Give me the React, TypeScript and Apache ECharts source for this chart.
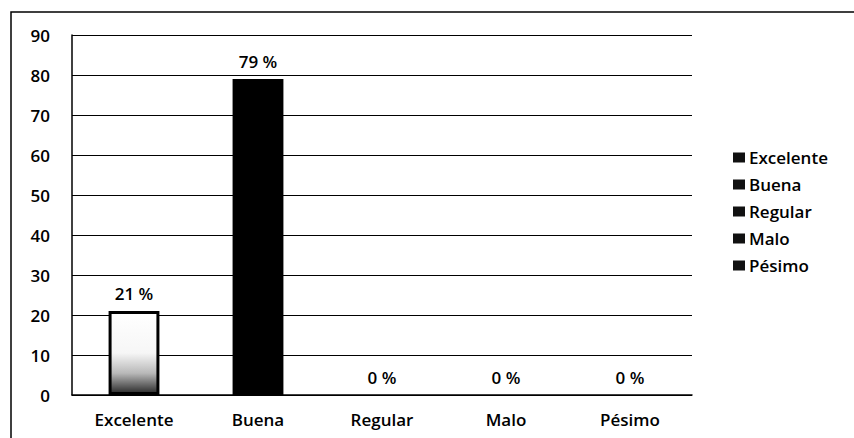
import React, { useEffect, useRef } from "react";
import * as echarts from "echarts";

const categories = ["Excelente", "Buena", "Regular", "Malo", "Pésimo"];
const values = [21, 79, 0, 0, 0];
const yTicks = { min: 0, max: 90, interval: 10 };

const FONT = "'Open Sans', 'Liberation Sans', sans-serif";
const FS = 17;
const FW = 600;

export default function App() {
  const ref = useRef<HTMLDivElement>(null);
  useEffect(() => {
    if (!ref.current) return;
    const chart = echarts.init(ref.current, undefined, { renderer: "svg" });
    const fills: any[] = [
      {
        type: "linear",
        x: 0,
        y: 0,
        x2: 0,
        y2: 1,
        colorStops: [
          { offset: 0, color: "#ffffff" },
          { offset: 0.5, color: "#f6f6f6" },
          { offset: 0.75, color: "#b8b8b8" },
          { offset: 1, color: "#2a2a2a" },
        ],
      },
      "#000000",
      "#000000",
      "#000000",
      "#000000",
    ];
    const series = categories.map((name, i) => ({
      name,
      type: "bar",
      stack: "all",
      barWidth: "41%",
      data: values.map((v, j) => (j === i ? v : "-")),
      itemStyle: {
        color: fills[i],
        borderColor: "#000",
        borderWidth: i === 0 ? 3 : 0,
      },
      label: {
        show: true,
        position: "top",
        distance: 9,
        formatter: "{c} %",
        color: "#000",
        fontSize: FS,
        fontWeight: FW,
        fontFamily: FONT,
      },
    }));
    chart.setOption({
      animation: false,
      backgroundColor: "#fff",
      graphic: [
        {
          type: "rect",
          shape: { x: 11, y: 12, width: 900, height: 500 },
          style: { fill: "none", stroke: "#000", lineWidth: 1.5 },
          z: -1,
        },
      ],
      grid: { left: 72, right: 162, top: 35, bottom: 43, containLabel: false },
      legend: {
        orient: "vertical",
        left: 728,
        top: 144,
        itemWidth: 12,
        itemHeight: 10,
        itemGap: 10,
        icon: "rect",
        textStyle: { fontSize: FS, fontWeight: FW, fontFamily: FONT, color: "#000", padding: [0, 0, 0, -1] },
        data: categories.map((n) => ({ name: n, itemStyle: { color: "#111", borderWidth: 0 } })),
      },
      xAxis: {
        type: "category",
        data: categories,
        axisLine: { show: true, lineStyle: { color: "#000", width: 1.5 } },
        axisTick: { show: false },
        axisLabel: { color: "#000", fontSize: FS, fontWeight: FW, fontFamily: FONT, margin: 16 },
      },
      yAxis: {
        type: "value",
        min: yTicks.min,
        max: yTicks.max,
        interval: yTicks.interval,
        axisLine: { show: true, lineStyle: { color: "#000", width: 1.5 } },
        axisTick: { show: false },
        axisLabel: { color: "#000", fontSize: FS, fontWeight: FW, fontFamily: FONT, margin: 22 },
        splitLine: { show: true, lineStyle: { color: "#000", width: 1.2 } },
      },
      series,
    });
    return () => chart.dispose();
  }, []);
  return (
    <div
      ref={ref}
      style={{ position: "fixed", left: 0, top: 0, width: 854, height: 438 }}
    />
  );
}
